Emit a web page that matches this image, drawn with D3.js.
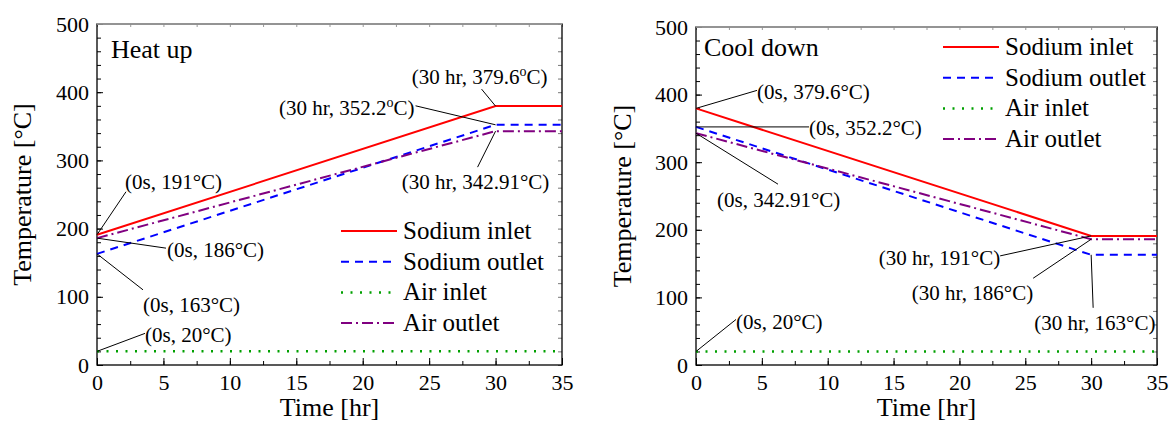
<!DOCTYPE html>
<html>
<head>
<meta charset="utf-8">
<script src="https://cdn.jsdelivr.net/npm/d3@7"></script>
<style>
  body { margin: 0; background: #fff; }
  svg text { font-family: "Liberation Serif", "Times New Roman", serif; fill: #000; }
</style>
</head>
<body>
<svg id="chart" width="1175" height="423"></svg>
<script>
// time points [hr]
var hours = [0, 30, 35];

// heat up, temperatures [°C]
var heatSodiumInlet = [191, 379.6, 379.6];
var heatSodiumOutlet = [163, 352.2, 352.2];
var heatAirInlet = [20, 20, 20];
var heatAirOutlet = [186, 342.91, 342.91];

// cool down, temperatures [°C]
var coolSodiumInlet = [379.6, 191, 191];
var coolSodiumOutlet = [352.2, 163, 163];
var coolAirInlet = [20, 20, 20];
var coolAirOutlet = [342.91, 186, 186];

var seriesNames = ["Sodium inlet", "Sodium outlet", "Air inlet", "Air outlet"];
var xTicks = [0, 5, 10, 15, 20, 25, 30, 35];
var yTicks = [0, 100, 200, 300, 400, 500];

// annotation labels: series index, point index, label text
var heatNotes = [
    { s: 0, i: 1, pre: "(30 hr, 379.6", sup: true },
    { s: 1, i: 1, pre: "(30 hr, 352.2", sup: true },
    { s: 3, i: 1, text: "(30 hr, 342.91°C)" },
    { s: 0, i: 0, text: "(0s, 191°C)" },
    { s: 3, i: 0, text: "(0s, 186°C)" },
    { s: 1, i: 0, text: "(0s, 163°C)" },
    { s: 2, i: 0, text: "(0s, 20°C)" }
];
var coolNotes = [
    { s: 0, i: 0, text: "(0s, 379.6°C)" },
    { s: 1, i: 0, text: "(0s, 352.2°C)" },
    { s: 3, i: 0, text: "(0s, 342.91°C)" },
    { s: 0, i: 1, text: "(30 hr, 191°C)" },
    { s: 3, i: 1, text: "(30 hr, 186°C)" },
    { s: 1, i: 1, text: "(30 hr, 163°C)" },
    { s: 2, i: 0, text: "(0s, 20°C)" }
];

// label layout (pixel offsets from the marked point)
var heatNoteLayout = [
    { lx: -14, ly: -17, tx: -16, ty: -22, anchor: "middle" },
    { lx: -80, ly: -19, tx: -81, ty: -10, anchor: "end" },
    { lx: -18, ly: 36, tx: -20, ty: 58, anchor: "middle" },
    { lx: 29, ly: -43, tx: 28, ty: -46, anchor: "start" },
    { lx: 69, ly: 10, tx: 70, ty: 19, anchor: "start" },
    { lx: 46, ly: 36, tx: 46, ty: 58, anchor: "start" },
    { lx: 48, ly: -18, tx: 48, ty: -9, anchor: "start" }
];
var coolNoteLayout = [
    { lx: 61, ly: -18, tx: 61, ty: -9, anchor: "start" },
    { lx: 113, ly: 0, tx: 113, ty: 8, anchor: "start" },
    { lx: 82, ly: 51, tx: 21, ty: 74, anchor: "start" },
    { lx: -91, ly: 20, tx: -91, ty: 29, anchor: "end" },
    { lx: -58, ly: 39, tx: -58, ty: 61, anchor: "end" },
    { lx: 2, ly: 53, tx: -57, ty: 75, anchor: "start" },
    { lx: 40, ly: -32, tx: 40, ty: -22, anchor: "start" }
];

var styles = [
    { color: "#ff0000", dash: null, width: 2 },
    { color: "#0000ff", dash: "8,6", width: 2 },
    { color: "#00a000", dash: "2,7.5", width: 2.5 },
    { color: "#800080", dash: "11,4,2,4", width: 2 }
];

var svg = d3.select("#chart");

function drawPanel(cfg) {
    var x = d3.scaleLinear().domain([0, 35]).range([cfg.left, cfg.right]);
    var y = d3.scaleLinear().domain([0, 500]).range([cfg.bottom, cfg.top]);
    var g = svg.append("g");

    // minor ticks
    var minorX = d3.range(0, 35.1, 2.5);
    var minorY = d3.range(0, 501, 20);
    g.append("g").attr("transform", "translate(0," + cfg.bottom + ")")
        .call(d3.axisBottom(x).tickValues(minorX).tickSize(-4).tickFormat(""))
        .call(a => a.select(".domain").remove());
    g.append("g").attr("transform", "translate(" + cfg.left + ",0)")
        .call(d3.axisLeft(y).tickValues(minorY).tickSize(-4).tickFormat(""))
        .call(a => a.select(".domain").remove());
    g.append("g").attr("transform", "translate(0," + cfg.top + ")")
        .call(d3.axisTop(x).tickValues(minorX).tickSize(-3).tickFormat(""))
        .call(a => a.select(".domain").remove())
        .selectAll("line").attr("stroke", "#999");
    g.append("g").attr("transform", "translate(" + cfg.right + ",0)")
        .call(d3.axisRight(y).tickValues(minorY).tickSize(-4).tickFormat(""))
        .call(a => a.select(".domain").remove())
        .selectAll("line").attr("stroke", "#777");

    // major ticks and labels
    var xa = g.append("g").attr("transform", "translate(0," + cfg.bottom + ")")
        .call(d3.axisBottom(x).tickValues(xTicks).tickSize(-7).tickPadding(9));
    xa.select(".domain").remove();
    xa.selectAll("text").style("font-size", "22px").attr("font-family", null);
    var ya = g.append("g").attr("transform", "translate(" + cfg.left + ",0)")
        .call(d3.axisLeft(y).tickValues(yTicks).tickSize(-6).tickPadding(8));
    ya.select(".domain").remove();
    ya.selectAll("text").style("font-size", "22px").attr("font-family", null);

    // frame
    g.append("rect")
        .attr("x", cfg.left).attr("y", cfg.top)
        .attr("width", cfg.right - cfg.left).attr("height", cfg.bottom - cfg.top)
        .attr("fill", "none").attr("stroke", "#000").attr("stroke-width", 1.3);
    g.append("line")
        .attr("x1", cfg.left).attr("x2", cfg.right)
        .attr("y1", cfg.top).attr("y2", cfg.top)
        .attr("stroke", "#fff").attr("stroke-width", 1.5);
    g.append("line")
        .attr("x1", cfg.left).attr("x2", cfg.right)
        .attr("y1", cfg.top).attr("y2", cfg.top)
        .attr("stroke", "#333").attr("stroke-width", 0.8);

    // axis titles
    g.append("text")
        .attr("x", (cfg.left + cfg.right) / 2).attr("y", 416)
        .attr("text-anchor", "middle").style("font-size", "26px")
        .text("Time [hr]");
    g.append("text")
        .attr("transform", "translate(" + cfg.yTitleX + "," + (cfg.top + cfg.bottom) / 2 + ")rotate(-90)")
        .attr("text-anchor", "middle").style("font-size", "26px")
        .text("Temperature [°C]");

    g.append("text")
        .attr("x", cfg.titleX).attr("y", cfg.titleY)
        .style("font-size", "26px")
        .text(cfg.title);

    // series lines
    var line = d3.line()
        .x((d, i) => x(hours[i]))
        .y(d => y(d));
    cfg.series.forEach((vals, k) => {
        g.append("path")
            .attr("d", line(vals))
            .attr("fill", "none")
            .attr("stroke", styles[k].color)
            .attr("stroke-width", styles[k].width)
            .attr("stroke-dasharray", styles[k].dash);
    });

    // annotations
    cfg.notes.forEach((n, j) => {
        var lay = cfg.layout[j];
        var px = x(hours[n.i]);
        var py = y(cfg.series[n.s][n.i]);
        g.append("line")
            .attr("x1", px).attr("y1", py)
            .attr("x2", px + lay.lx).attr("y2", py + lay.ly)
            .attr("stroke", "#000").attr("stroke-width", 1);
        var t = g.append("text")
            .attr("x", px + lay.tx).attr("y", py + lay.ty)
            .attr("text-anchor", lay.anchor)
            .style("font-size", "21px");
        if (n.sup) {
            t.append("tspan").text(n.pre);
            t.append("tspan").attr("dy", -8).style("font-size", "14px").text("o");
            t.append("tspan").attr("dy", 8).text("C)");
        } else {
            t.text(n.text);
        }
    });

    // legend
    seriesNames.forEach((name, k) => {
        var ly = cfg.legendY + k * 30.7;
        g.append("line")
            .attr("x1", cfg.legendX).attr("x2", cfg.legendX + 56)
            .attr("y1", ly).attr("y2", ly)
            .attr("stroke", styles[k].color)
            .attr("stroke-width", styles[k].width)
            .attr("stroke-dasharray", styles[k].dash);
        g.append("text")
            .attr("x", cfg.legendX + 62).attr("y", ly + 8)
            .style("font-size", "25px")
            .text(name);
    });
}

drawPanel({
    left: 97, right: 562, top: 24, bottom: 365,
    yTitleX: 31, title: "Heat up", titleX: 111, titleY: 58,
    series: [heatSodiumInlet, heatSodiumOutlet, heatAirInlet, heatAirOutlet],
    notes: heatNotes, layout: heatNoteLayout,
    legendX: 341, legendY: 231
});

drawPanel({
    left: 696, right: 1157, top: 27, bottom: 365,
    yTitleX: 631, title: "Cool down", titleX: 704, titleY: 56,
    series: [coolSodiumInlet, coolSodiumOutlet, coolAirInlet, coolAirOutlet],
    notes: coolNotes, layout: coolNoteLayout,
    legendX: 943, legendY: 47
});
</script>
</body>
</html>
